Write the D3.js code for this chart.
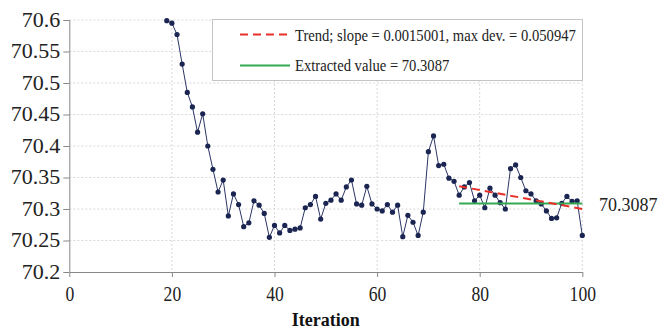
<!doctype html>
<html>
<head>
<meta charset="utf-8" />
<script src="https://cdn.jsdelivr.net/npm/d3@7"></script>
<style>
  body{margin:0;padding:0;background:#fff;}
</style>
</head>
<body>
<script>
  // dimensioni della finestra
  var width = 660, height = 329;
  var plot = {left: 69.3, right: 582.3, top: 20, bottom: 272};
  var FONT = "'Liberation Serif'";

  // dati
  var firstIteration = 19;
  var values = [70.599, 70.595, 70.577, 70.530, 70.485, 70.462, 70.422, 70.451, 70.400, 70.363,
                70.327, 70.346, 70.289, 70.324, 70.307, 70.272, 70.278, 70.313, 70.306, 70.293,
                70.255, 70.274, 70.262, 70.274, 70.266, 70.268, 70.270, 70.302, 70.307, 70.320,
                70.284, 70.309, 70.314, 70.324, 70.314, 70.335, 70.346, 70.308, 70.306, 70.336,
                70.308, 70.300, 70.297, 70.307, 70.295, 70.306, 70.256, 70.290, 70.279, 70.258,
                70.295, 70.391, 70.416, 70.369, 70.371, 70.349, 70.344, 70.322, 70.335, 70.342,
                70.313, 70.322, 70.302, 70.333, 70.322, 70.310, 70.300, 70.364, 70.370, 70.350,
                70.329, 70.324, 70.313, 70.308, 70.297, 70.285, 70.286, 70.309, 70.320, 70.312,
                70.313, 70.258];
  var trendX = [76, 100];
  var trendY = [70.3361, 70.3001];
  var extractedX = [76, 100];
  var extractedValue = 70.3087;
  var xTicks = [0, 20, 40, 60, 80, 100];
  var yTicks = [70.2, 70.25, 70.3, 70.35, 70.4, 70.45, 70.5, 70.55, 70.6];
  var legendLabels = ["Trend; slope = 0.0015001, max dev. = 0.050947", "Extracted value = 70.3087"];

  var data = values.map(function(v, i){ return {x: firstIteration + i, y: v}; });

  var x = d3.scaleLinear().domain([0, 100]).range([plot.left, plot.right]);
  var y = d3.scaleLinear().domain([70.2, 70.6]).range([plot.bottom, plot.top]);

  var svg = d3.select("body").append("svg").attr("width", width).attr("height", height);

  // griglia
  svg.append("g").selectAll("line").data(xTicks.slice(1)).enter().append("line")
    .attr("x1", x).attr("x2", x).attr("y1", plot.top).attr("y2", plot.bottom)
    .attr("stroke", "#d8d8d8").attr("stroke-dasharray", "2,2");
  svg.append("g").selectAll("line").data(yTicks.slice(1)).enter().append("line")
    .attr("x1", plot.left).attr("x2", plot.right).attr("y1", y).attr("y2", y)
    .attr("stroke", "#d8d8d8").attr("stroke-dasharray", "2,2");

  // assi
  var yAxis = svg.append("g").attr("transform", "translate(" + plot.left + ",0)")
    .call(d3.axisLeft(y).tickValues(yTicks).tickSize(6).tickFormat(function(d){ return +d.toFixed(2); }));
  var xAxis = svg.append("g").attr("transform", "translate(0," + plot.bottom + ")")
    .call(d3.axisBottom(x).tickValues(xTicks).tickSize(5).tickPadding(10).tickSizeOuter(0));
  yAxis.select(".domain").attr("d", "M0.5," + plot.bottom + "V" + plot.top);
  [xAxis, yAxis].forEach(function(a){
    a.select(".domain").attr("stroke", "#888");
    a.selectAll(".tick line").attr("stroke", "#888");
    a.selectAll(".tick text").style("font-size", "20px").style("font-family", FONT).attr("fill", "#222");
  });
  // le etichette dell'asse Y sono piu' larghe, quelle dell'asse X piu' strette
  yAxis.selectAll(".tick text").attr("x", -9 / 1.1).attr("transform", "scale(1.1,1)");
  xAxis.selectAll(".tick text").attr("transform", "scale(0.88,1)");

  svg.append("text").attr("x", (plot.left + plot.right) / 2).attr("y", 326)
    .attr("text-anchor", "middle").style("font-size", "18px").style("font-weight", "bold")
    .style("font-family", FONT).attr("fill", "#111").text("Iteration");

  // legenda
  var lg = svg.append("g");
  lg.append("rect").attr("x", 212.5).attr("y", 19.5).attr("width", 370).attr("height", 61)
    .attr("fill", "#fff").attr("stroke", "#c4c4c4");
  lg.append("line").attr("x1", 240).attr("x2", 289).attr("y1", 34.5).attr("y2", 34.5)
    .attr("stroke", "#e8302a").attr("stroke-width", 2).attr("stroke-dasharray", "8,5");
  lg.append("line").attr("x1", 240).attr("x2", 290).attr("y1", 65.5).attr("y2", 65.5)
    .attr("stroke", "#34a853").attr("stroke-width", 2);
  lg.selectAll("text").data(legendLabels).enter().append("text")
    .attr("transform", function(d, i){ return "translate(295," + (40.5 + i * 30.5) + ") scale(0.86,1)"; })
    .style("font-size", "17px").style("font-family", FONT).attr("fill", "#222")
    .text(function(d){ return d; });

  // serie
  var line = d3.line().x(function(d){ return x(d.x); }).y(function(d){ return y(d.y); });
  svg.append("path").datum(data).attr("d", line)
    .attr("fill", "none").attr("stroke", "#2b3566").attr("stroke-width", 1);
  svg.append("g").selectAll("circle").data(data).enter().append("circle")
    .attr("cx", function(d){ return x(d.x); }).attr("cy", function(d){ return y(d.y); })
    .attr("r", 2.6).attr("fill", "#1b2552");

  // valore estratto e trend
  svg.append("line").attr("x1", x(extractedX[0])).attr("x2", x(extractedX[1]))
    .attr("y1", y(extractedValue)).attr("y2", y(extractedValue))
    .attr("stroke", "#34a853").attr("stroke-width", 2);
  svg.append("line").attr("x1", x(trendX[0])).attr("x2", x(trendX[1]))
    .attr("y1", y(trendY[0])).attr("y2", y(trendY[1]))
    .attr("stroke", "#e8302a").attr("stroke-width", 2).attr("stroke-dasharray", "8,5");

  svg.append("text").attr("x", 599).attr("y", y(extractedValue) + 7)
    .style("font-size", "18px").style("font-family", FONT).attr("fill", "#222")
    .text(d3.format(".4f")(extractedValue));
</script>
</body>
</html>
